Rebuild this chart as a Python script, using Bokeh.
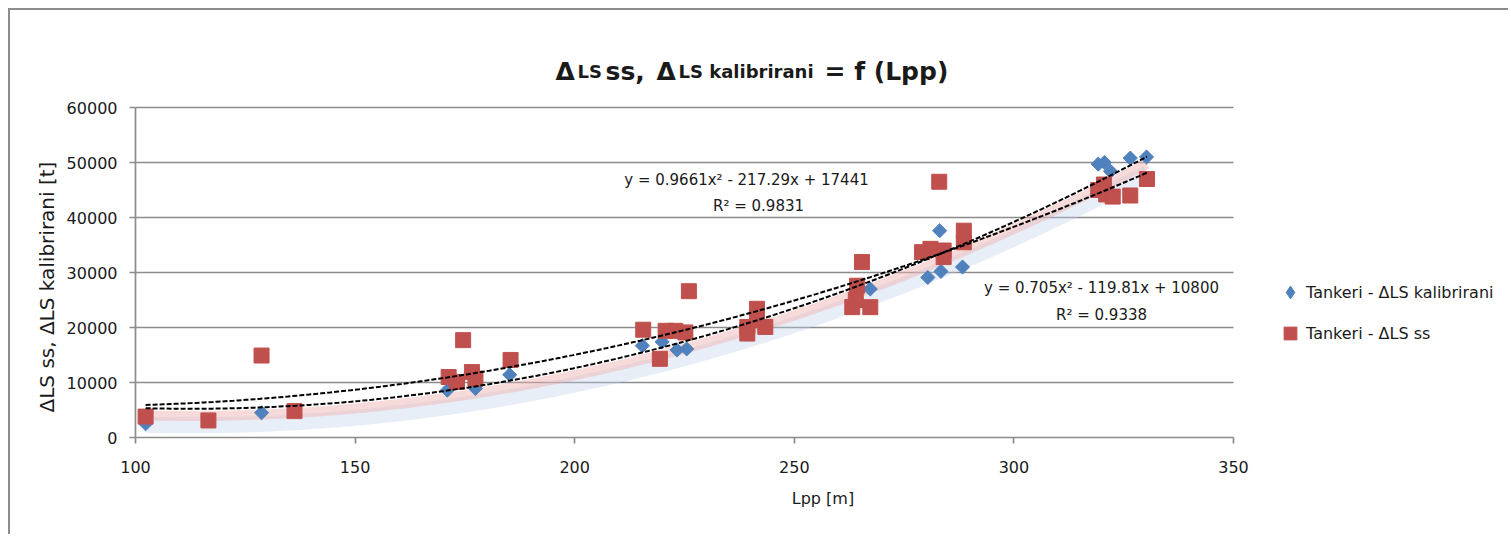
import numpy as np
from bokeh.plotting import figure
from bokeh.models import Range1d, Label, Legend, LegendItem, Title
from bokeh.embed import file_html
from bokeh.resources import INLINE

# ---------------- data ----------------
lpp_kalibrirani = [102.3, 128.7, 171.0, 177.4, 185.2, 215.4, 219.9, 223.3, 225.5,
                   267.3, 280.4, 283.1, 283.4, 288.3, 319.2, 320.6, 322.0, 326.5, 330.2]
ls_kalibrirani = [2500, 4500, 8600, 8900, 11400, 16700, 17400, 15900, 16100,
                  27000, 29100, 37600, 30200, 31000, 49700, 50000, 48400, 50800, 51000]

lpp_ss = [102.3, 116.6, 128.7, 136.2, 171.3, 173.2, 174.6, 176.6, 177.4, 185.4,
          215.6, 219.4, 220.7, 222.9, 225.2, 226.0, 239.3, 239.3, 241.5, 241.5, 243.4,
          263.2, 264.0, 264.3, 265.4, 267.3, 279.1, 281.0, 283.0, 284.0, 284.0, 288.6, 288.6,
          319.2, 320.5, 321.0, 322.5, 326.5, 330.3]
ls_ss = [3800, 3100, 14900, 4800, 11000, 10100, 17700, 11900, 10700, 14100,
         19600, 14300, 19400, 19400, 19100, 26600, 20100, 18900, 23400, 21300, 20100,
         23700, 25000, 27600, 31900, 23700, 33700, 34300, 46500, 34000, 32800, 37600, 35500,
         45000, 46000, 44200, 43800, 44000, 47000]

# polynomial trendline coefficients as printed on the chart (a, b, c)
fit_kalibrirani = [0.9661, -217.29, 17441]
fit_ss = [0.705, -119.81, 10800]
eq_kalibrirani = ["y = 0.9661x² - 217.29x + 17441", "R² = 0.9831"]
eq_ss = ["y = 0.705x² - 119.81x + 10800", "R² = 0.9338"]

x_ticks = [100, 150, 200, 250, 300, 350]
y_ticks = [0, 10000, 20000, 30000, 40000, 50000, 60000]

# title pieces (the reference mixes two font sizes)
title_parts = ["Δ", "LS", "ss,", "Δ", "LS kalibrirani", "= f (Lpp)"]
series_names = ["Tankeri - ΔLS kalibrirani", "Tankeri - ΔLS ss"]
x_label = "Lpp [m]"
y_label = "ΔLS ss,  ΔLS kalibrirani [t]"

BLUE = "#4F81BD"
RED = "#C0504D"
GRID = "#8c8c8c"
TXT = "#1a1a1a"
FONT = "DejaVu Sans"

# ---------------- layout (page pixels) ----------------
ORIG = 10                       # canvas origin on the page (after 8px offset + 2px border)
W, H = 1500, 526
PL, PR, PT, PB = 135, 1233, 107, 437   # data area of the chart on the page
sx = (PR - PL) / (x_ticks[-1] - x_ticks[0])
sy = (PB - PT) / (y_ticks[-1] - y_ticks[0])
x_end = x_ticks[-1] + (ORIG + W - PR) / sx     # frame reaches the right canvas edge
y_end = y_ticks[-1] + (PT - ORIG) / sy         # frame reaches the top canvas edge

p = figure(width=W, height=H, output_backend="svg", toolbar_location=None,
           title_location=None,
           x_range=Range1d(x_ticks[0], x_end), y_range=Range1d(y_ticks[0], y_end),
           min_border_left=PL - ORIG, min_border_right=0, min_border_top=0,
           min_border_bottom=ORIG + H - PB)
p.styles = {"margin-left": "8px", "margin-top": "8px",
            "border-top": "2px solid #8c8c8c", "border-left": "2px solid #8c8c8c"}
p.outline_line_color = None
p.background_fill_color = "white"
p.border_fill_color = "white"

p.xgrid.grid_line_color = None
p.ygrid.grid_line_color = GRID
p.ygrid.grid_line_width = 1.7
p.ygrid.bounds = (y_ticks[0], y_ticks[-1])
grid = p.ygrid[0]
if "cross_bounds" in grid.properties():
    grid.cross_bounds = (x_ticks[0], x_ticks[-1])

p.xaxis.ticker = x_ticks
p.yaxis.ticker = y_ticks
p.xaxis.bounds = (x_ticks[0], x_ticks[-1])
p.yaxis.bounds = (y_ticks[0], y_ticks[-1])
for ax in (p.xaxis, p.yaxis):
    ax.axis_line_color = GRID
    ax.axis_line_width = 1.7
    ax.major_tick_line_color = GRID
    ax.major_tick_line_width = 1.7
    ax.major_tick_in = 0
    ax.major_tick_out = 6
    ax.minor_tick_line_color = None
    ax.major_label_text_font = FONT
    ax.major_label_text_font_size = "16px"
    ax.major_label_text_color = TXT
    ax.axis_label_text_font = FONT
    ax.axis_label_text_font_style = "normal"
    ax.axis_label_text_color = TXT

p.xaxis.axis_label = x_label
p.xaxis.axis_label_text_font_size = "16px"
p.xaxis.major_label_standoff = 17
p.xaxis.axis_label_standoff = 13
p.yaxis.major_label_standoff = 12

# y-axis title: a rotated Title in the left panel, aligned to start near the axis bottom
p.add_layout(Title(text=y_label, align="left", offset=PB - 412, text_font=FONT,
                   text_font_size="20px", text_font_style="normal", text_color=TXT,
                   standoff=10), "left")

# ---------------- trendlines ----------------
def poly(c, x):
    return c[0] * x ** 2 + c[1] * x + c[2]

xmin = min(min(lpp_kalibrirani), min(lpp_ss))
xmax = max(max(lpp_kalibrirani), max(lpp_ss))
tx = np.linspace(xmin, xmax, 240)
y_kal = poly(fit_kalibrirani, tx)
y_ss = poly(fit_ss, tx)

# soft shadow/glow under the trendlines
p.line(tx, y_kal - 3000, line_width=16, color="#bccfe7", alpha=0.35)
p.line(tx, y_kal - 1300, line_width=10, color="#eeb0ae", alpha=0.45)

# ---------------- markers ----------------
p.scatter(lpp_kalibrirani, ls_kalibrirani, marker="square", angle=np.pi / 4, size=10,
          fill_color=BLUE, line_color=BLUE)
p.scatter(lpp_ss, ls_ss, marker="square", size=15, fill_color=RED, line_color=RED)

p.line(tx, y_kal, line_width=2, color="black", line_dash="5 2")
p.line(tx, y_ss, line_width=2, color="black", line_dash="5 2")

# ---------------- texts inside the frame (screen px relative to frame) ----------------
def screen_label(text, px, py, size, align="center", baseline="middle", bold=False):
    p.add_layout(Label(x=px - PL, y=PB - py, x_units="screen", y_units="screen", text=text,
                       text_font=FONT, text_font_size=size, text_color=TXT,
                       text_align=align, text_baseline=baseline,
                       text_font_style="bold" if bold else "normal"))

screen_label(eq_kalibrirani[0], 746, 179, "15px")
screen_label(eq_kalibrirani[1], 758, 205, "15px")
screen_label(eq_ss[0], 1101, 287, "15px")
screen_label(eq_ss[1], 1101, 314, "15px")

BIG, SMALL = "25px", "18px"
title_x = [555, 577, 605, 656, 678, 824]
title_sz = [BIG, SMALL, BIG, BIG, SMALL, BIG]
for t, px, sz in zip(title_parts, title_x, title_sz):
    screen_label(t, px, 71, sz, align="left", baseline="alphabetic", bold=True)

# ---------------- legend ----------------
nan = [float("nan")]
dummy_b = p.scatter(x=nan, y=nan, marker="diamond", fill_color=BLUE, line_color=BLUE)
dummy_r = p.scatter(x=nan, y=nan, marker="square", fill_color=RED, line_color=RED)
legend = Legend(items=[LegendItem(label=series_names[0], renderers=[dummy_b]),
                       LegendItem(label=series_names[1], renderers=[dummy_r])],
                location=(1274 - PL, PB - 349), orientation="vertical",
                glyph_width=32, glyph_height=32, spacing=9, label_standoff=-7,
                padding=0, margin=0, border_line_color=None, background_fill_alpha=0,
                label_text_font=FONT, label_text_font_size="16px", label_text_color=TXT,
                label_text_baseline="middle")
p.add_layout(legend)

open("out.html", "w").write(file_html(p, INLINE))
